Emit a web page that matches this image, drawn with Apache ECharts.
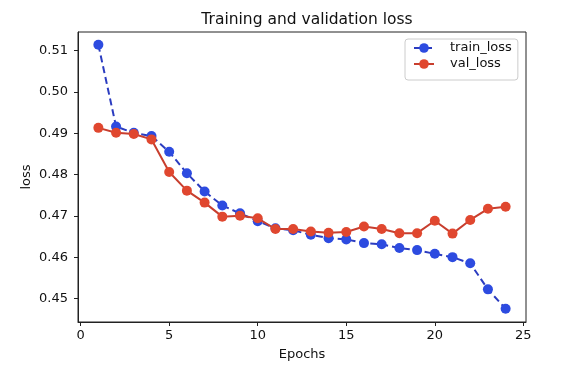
<!DOCTYPE html>
<html>
<head>
<meta charset="utf-8">
<script src="https://cdn.jsdelivr.net/npm/echarts@6/dist/echarts.min.js"></script>
<style>
html,body{margin:0;padding:0;background:#fff;}
#chart{width:571px;height:367px;}
</style>
</head>
<body>
<div id="chart"></div>
<script>
const epochs = [1,2,3,4,5,6,7,8,9,10,11,12,13,14,15,16,17,18,19,20,21,22,23,24];
const trainLoss = [0.5114,0.4916,0.4901,0.4893,0.4855,0.4803,0.4759,0.4725,0.4706,0.4687,0.4670,0.4665,0.4654,0.4646,0.4643,0.4634,0.4631,0.4622,0.4617,0.4608,0.4600,0.4585,0.4522,0.4475];
const valLoss = [0.4913,0.4901,0.4898,0.4885,0.4806,0.4761,0.4732,0.4698,0.4700,0.4694,0.4668,0.4668,0.4662,0.4659,0.4661,0.4674,0.4668,0.4658,0.4658,0.4688,0.4657,0.4690,0.4717,0.4722];
const xTicks = [0,5,10,15,20,25];
const yTicks = [0.45,0.46,0.47,0.48,0.49,0.50,0.51];

const font = 'DejaVu Sans';
const chart = echarts.init(document.getElementById('chart'), null, {renderer:'canvas'});
chart.setOption({
  animation: false,
  backgroundColor: '#fff',
  title: {
    text: 'Training and validation loss',
    left: 302, top: 7, textAlign: 'center',
    textStyle: {fontFamily: font, fontSize: 15.5, fontWeight: 'normal', color: '#111'}
  },
  legend: {
    orient: 'vertical',
    left: 405, top: 39,
    padding: [2, 6, 9, 8],
    itemWidth: 20, itemHeight: 12, itemGap: 2,
    backgroundColor: 'rgba(255,255,255,0.8)',
    borderColor: '#cccccc', borderWidth: 1, borderRadius: 3,
    textStyle: {fontFamily: font, fontSize: 13, lineHeight: 14, color: '#111', padding: [0,0,0,11]},
    data: ['train_loss','val_loss']
  },
  grid: {
    left: 78, right: 45, top: 32, bottom: 45,
    show: true, borderColor: '#222', borderWidth: 1, backgroundColor: '#fff'
  },
  xAxis: {
    type: 'value', min: -0.15, max: 25.15,
    name: 'Epochs', nameLocation: 'middle', nameGap: 26, nameMoveOverlap: false,
    nameTextStyle: {fontFamily: font, fontSize: 13, color: '#111'},
    axisLine: {show: true, onZero: false, lineStyle: {color: '#222', width: 1}},
    axisTick: {show: true, length: 4, customValues: xTicks, lineStyle: {color: '#222'}},
    axisLabel: {customValues: xTicks, fontFamily: font, fontSize: 13, color: '#111', margin: 7,
      formatter: v => String(v)},
    splitLine: {show: false}
  },
  yAxis: {
    type: 'value', min: 0.4443, max: 0.5145,
    name: 'loss', nameLocation: 'middle', nameGap: 45, nameMoveOverlap: false,
    nameTextStyle: {fontFamily: font, fontSize: 13, color: '#111'},
    axisLine: {show: true, onZero: false, lineStyle: {color: '#222', width: 1}},
    axisTick: {show: true, length: 4, customValues: yTicks, lineStyle: {color: '#222'}},
    axisLabel: {customValues: yTicks, fontFamily: font, fontSize: 13, color: '#111', margin: 10,
      formatter: v => v.toFixed(2)},
    splitLine: {show: false}
  },
  series: [
    {
      name: 'train_loss', type: 'line',
      data: epochs.map((e,i) => [e, trainLoss[i]]),
      symbol: 'circle', symbolSize: 10,
      itemStyle: {color: '#2d4be0', borderWidth: 0},
      lineStyle: {color: '#2b3cc0', width: 2, type: [7,4]},
      z: 2
    },
    {
      name: 'val_loss', type: 'line',
      data: epochs.map((e,i) => [e, valLoss[i]]),
      symbol: 'circle', symbolSize: 10,
      itemStyle: {color: '#e0472f', borderWidth: 0},
      lineStyle: {color: '#c83e2e', width: 2},
      z: 3
    }
  ]
});
</script>
</body>
</html>
